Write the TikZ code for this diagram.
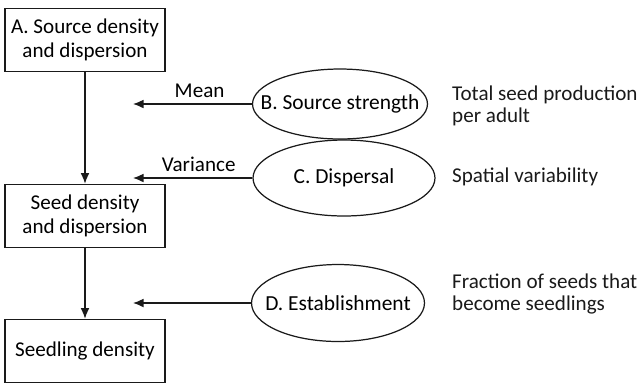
\documentclass[tikz,border=0pt]{standalone}
\usepackage{fontspec}
\setmainfont{Carlito}
\usetikzlibrary{shapes.geometric,arrows.meta}
\definecolor{figInk}{HTML}{1A1A1A}
\definecolor{figBg}{HTML}{FFFFFF}
% text that does not widen its ellipse
\newcommand{\flattext}[1]{\makebox[0pt]{#1}}

\begin{document}
\begin{tikzpicture}[x=0.02cm,y=-0.02cm,
    box/.style={draw=figInk,line width=0.7pt,minimum width=3.2cm,minimum height=1.27cm,
      align=center,inner sep=0pt,font=\fontsize{12}{14}\selectfont},
    factor/.style={ellipse,draw=figInk,line width=0.7pt,inner sep=0pt,
      font=\fontsize{12.2}{14}\selectfont},
    note/.style={anchor=west,align=left,text=figInk,font=\fontsize{12}{12.5}\selectfont},
    link/.style={draw=figInk,line width=0.7pt,-{Latex[length=6pt,width=5pt]}}]
    \useasboundingbox[fill=figBg] (0,0) rectangle (644,383);
    % state boxes on the left
    \node[box] (srcA) at (85,40) {A. Source density\\and dispersion};
    \node[box] (seed) at (85,216) {Seed density\\and dispersion};
    \node[box] (sdlg) at (85,351) {Seedling density};
    % processes
    \node[factor,minimum width=3.5cm,minimum height=1.4cm] (strB) at (340,104) {\flattext{B. Source strength}};
    \node[factor,minimum width=3.64cm,minimum height=1.52cm] (dspC) at (344,178) {\flattext{C. Dispersal}};
    \node[factor,minimum width=3.46cm,minimum height=1.54cm] (estD) at (338,303) {\flattext{D. Establishment}};
    % free ends of the side arrows
    \coordinate (meanEnd) at (133,104);
    \coordinate (varEnd) at (133,178);
    \coordinate (estEnd) at (133,303);
    % main chain
    \draw[link] (srcA.south) -- (seed.north);
    \draw[link] (seed.south) -- (sdlg.north);
    % side arrows
    \draw[link] (strB.west) -- node[pos=0.44,above,font=\fontsize{12}{14}\selectfont] {Mean} (meanEnd);
    \draw[link] (dspC.west) -- node[pos=0.45,above,font=\fontsize{12}{14}\selectfont] {Variance} (varEnd);
    \draw[link] (estD.west) -- (estEnd);
    % what each process stands for
    \node[note] (noteB) at (446,106) {Total seed production\\per adult};
    \node[note] (noteC) at (446,177) {Spatial variability};
    \node[note] (noteD) at (446,294) {Fraction of seeds that\\become seedlings};
\end{tikzpicture}
\end{document}
